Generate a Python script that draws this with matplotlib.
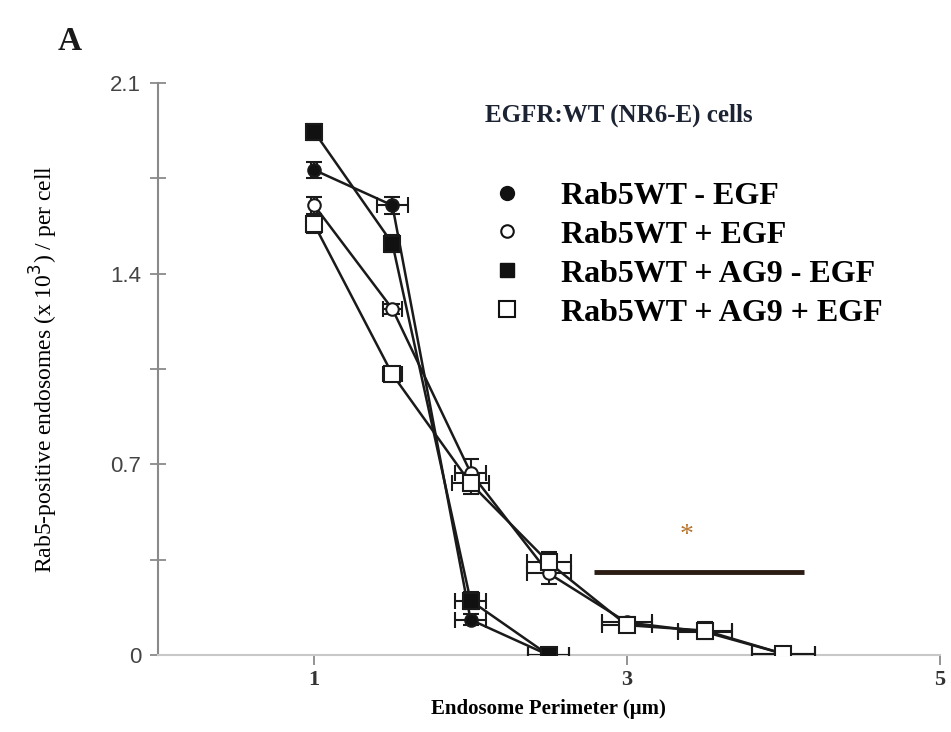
import matplotlib.pyplot as plt
from matplotlib.lines import Line2D

# Data
perimeter = [1.0, 1.5, 2.0, 2.5]
perimeter_egf = [1.0, 1.5, 2.0, 2.5, 3.0, 3.5, 4.0]

wt_minus = [1.78, 1.65, 0.13, 0.0]
wt_minus_yerr = [0.03, 0.03, 0.02, 0.01]
wt_minus_xerr = [0.02, 0.10, 0.10, 0.13]

ag9_minus = [1.92, 1.51, 0.20, 0.0]
ag9_minus_yerr = [0.03, 0.03, 0.03, 0.01]
ag9_minus_xerr = [0.02, 0.02, 0.10, 0.13]

wt_plus = [1.65, 1.27, 0.67, 0.30, 0.12, 0.085, 0.005]
wt_plus_yerr = [0.03, 0.02, 0.05, 0.04, 0.02, 0.02, 0.01]
wt_plus_xerr = [0.02, 0.06, 0.10, 0.14, 0.16, 0.17, 0.20]

ag9_plus = [1.58, 1.03, 0.63, 0.34, 0.11, 0.09, 0.005]
ag9_plus_yerr = [0.03, 0.02, 0.04, 0.04, 0.02, 0.03, 0.01]
ag9_plus_xerr = [0.02, 0.06, 0.12, 0.14, 0.16, 0.17, 0.20]

labels = ['Rab5WT - EGF', 'Rab5WT + EGF', 'Rab5WT + AG9 - EGF', 'Rab5WT + AG9 + EGF']

sig_bar_x = [2.79, 4.13]
sig_bar_y = 0.305
star_pos = (3.38, 0.44)

serif = ['Liberation Serif', 'DejaVu Serif']

fig = plt.figure(figsize=(9.51, 7.32), dpi=100)
ax = fig.add_axes([0.166, 0.105, 0.822, 0.782])

series = [
    (perimeter, wt_minus, wt_minus_xerr, wt_minus_yerr, 'o', '#111111', 9),
    (perimeter, ag9_minus, ag9_minus_xerr, ag9_minus_yerr, 's', '#111111', 11),
    (perimeter_egf, wt_plus, wt_plus_xerr, wt_plus_yerr, 'o', 'white', 9),
    (perimeter_egf, ag9_plus, ag9_plus_xerr, ag9_plus_yerr, 's', 'white', 11),
]
for x, y, xe, ye, m, fc, ms in series:
    ax.errorbar(x, y, xerr=xe, yerr=ye, fmt='-', color='#1a1a1a', lw=1.8,
                marker=m, mfc=fc, mec='#1a1a1a', mew=1.5, ms=ms,
                ecolor='#1a1a1a', elinewidth=1.5, capsize=6, capthick=1.5, zorder=3)

# significance bar and star
ax.plot(sig_bar_x, [sig_bar_y, sig_bar_y], color='#2b1d14', lw=3.5, solid_capstyle='butt')
ax.text(star_pos[0], star_pos[1], '*', color='#b8742a', fontsize=20,
        ha='center', va='center', family=serif)

ax.set_xlim(0, 5)
ax.set_ylim(0, 2.1)
ax.set_xticks([1, 3, 5])
ax.set_yticks([0, 0.7, 1.4, 2.1])
ax.set_yticklabels(['0', '0.7', '1.4', '2.1'])
ax.set_yticks([0.35, 1.05, 1.75], minor=True)

for s in ['top', 'right']:
    ax.spines[s].set_visible(False)
ax.spines['left'].set_color('#8a8a8a')
ax.spines['bottom'].set_color('#c8c8c8')
ax.spines['left'].set_linewidth(1.5)
ax.spines['bottom'].set_linewidth(1.5)

ax.tick_params(axis='y', which='both', direction='inout', length=12, width=1.3,
               color='#8a8a8a', labelsize=16, labelcolor='#444444', pad=6)
ax.tick_params(axis='x', direction='out', length=7, width=1.3, color='#8a8a8a',
               labelsize=16, pad=4)
for t in ax.get_yticklabels():
    t.set_family(['Liberation Sans', 'DejaVu Sans'])
for t in ax.get_xticklabels():
    t.set_family(serif)
    t.set_fontweight('bold')
    t.set_color('#333333')

ax.set_xlabel('Endosome Perimeter (μm)', fontsize=15, fontweight='bold',
              family=serif, labelpad=6)
ax.set_ylabel('Rab5-positive endosomes (x 10$^3$) / per cell', fontsize=17,
              family=serif, labelpad=36)

fig.text(0.51, 0.843, 'EGFR:WT (NR6-E) cells', fontsize=18, fontweight='bold',
         color='#1c2333', family=serif, ha='left', va='center')
fig.text(0.073, 0.943, 'A', fontsize=24, fontweight='bold', family=serif,
         color='#1a1a1a', ha='center', va='center')

handles = [
    Line2D([], [], ls='none', marker='o', mfc='#111111', mec='#111111', ms=10),
    Line2D([], [], ls='none', marker='o', mfc='white', mec='#111111', mew=1.5, ms=9),
    Line2D([], [], ls='none', marker='s', mfc='#111111', mec='#111111', ms=10),
    Line2D([], [], ls='none', marker='s', mfc='white', mec='#111111', mew=1.5, ms=11),
]
leg = ax.legend(handles, labels, loc='upper left', bbox_to_anchor=(0.41, 0.85),
                frameon=False, handlelength=1.0, handletextpad=1.2,
                labelspacing=0.3, borderaxespad=0,
                prop={'family': serif, 'weight': 'bold', 'size': 23})

fig.savefig('out.png', dpi=100)
